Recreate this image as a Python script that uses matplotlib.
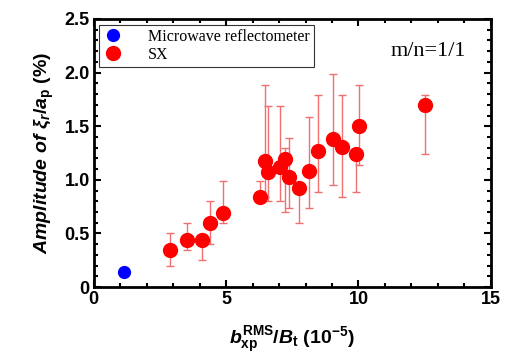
import numpy as np
import matplotlib
matplotlib.use('Agg')
import matplotlib.pyplot as plt
from matplotlib.ticker import MultipleLocator, FuncFormatter

# Microwave reflectometer point
mw_x = [1.15]
mw_y = [0.14]
mw_err = [0.04]

# SX points: x, y, lower and upper ends of the error bars
sx_x = [2.88, 3.54, 4.08, 4.38, 4.87, 6.28, 6.46, 6.59, 7.05, 7.24,
        7.38, 7.77, 8.12, 8.47, 9.04, 9.36, 9.89, 10.02, 12.50]
sx_y = [0.35, 0.44, 0.44, 0.60, 0.69, 0.84, 1.18, 1.07, 1.12, 1.19,
        1.03, 0.92, 1.08, 1.27, 1.38, 1.31, 1.24, 1.50, 1.70]
sx_lo = [0.20, 0.35, 0.25, 0.40, 0.60, 0.80, 0.84, 0.80, 0.80, 0.70,
         0.74, 0.60, 0.74, 0.89, 0.95, 0.84, 0.89, 1.14, 1.24]
sx_hi = [0.50, 0.60, 0.44, 0.80, 0.99, 0.99, 1.88, 1.69, 1.69, 1.30,
         1.39, 0.92, 1.59, 1.79, 1.99, 1.79, 1.24, 1.88, 1.79]

plt.rcParams['font.family'] = 'Liberation Sans'
plt.rcParams['mathtext.fontset'] = 'custom'
plt.rcParams['mathtext.rm'] = 'Liberation Sans:bold'
plt.rcParams['mathtext.it'] = 'Liberation Sans:bold:italic'
plt.rcParams['mathtext.bf'] = 'Liberation Sans:bold'

fig = plt.figure(figsize=(5.07, 3.58), dpi=100)
ax = fig.add_axes([0.185, 0.198, 0.783, 0.749])

sx_y_arr = np.array(sx_y)
yerr = [sx_y_arr - np.array(sx_lo), np.array(sx_hi) - sx_y_arr]
ax.errorbar(sx_x, sx_y, yerr=yerr, fmt='none', ecolor='#f07070',
            elinewidth=1.0, capsize=3, capthick=1.0, zorder=2)
ax.errorbar(mw_x, mw_y, yerr=mw_err, fmt='none', ecolor='#8080ff',
            elinewidth=1.0, capsize=2, zorder=2)
ax.plot(mw_x, mw_y, 'o', color='#0000ff', markersize=8.5, label='Microwave reflectometer', zorder=3)
ax.plot(sx_x, sx_y, 'o', color='#ff0000', markersize=10, label='SX', zorder=3)

ax.set_xlim(0, 15)
ax.set_ylim(0, 2.5)
ax.xaxis.set_major_locator(MultipleLocator(5))
ax.xaxis.set_minor_locator(MultipleLocator(1))
ax.yaxis.set_major_locator(MultipleLocator(0.5))
ax.yaxis.set_minor_locator(MultipleLocator(0.1))
ax.yaxis.set_major_formatter(FuncFormatter(lambda v, p: '0' if v == 0 else f'{v:.1f}'))
ax.tick_params(which='both', direction='in', top=True, right=True, width=1.5)
ax.tick_params(which='major', length=5, labelsize=13, pad=3)
ax.tick_params(which='minor', length=3)
for lab in ax.get_xticklabels() + ax.get_yticklabels():
    lab.set_fontweight('bold')
for s in ax.spines.values():
    s.set_linewidth(2)

ax.set_xlabel(r'$b_{\mathrm{xp}}^{\mathrm{RMS}}/B_{\mathrm{t}}$ (10$^{\mathrm{-5}}$)',
              fontsize=14, fontweight='bold', labelpad=12)
ax.set_ylabel(r'$Amplitude\ of\ \xi_r/a_{\mathrm{p}}$ (%)', fontsize=14,
              fontweight='bold', labelpad=6)

leg = ax.legend(loc='upper left', prop={'family': 'Liberation Serif', 'size': 11.5},
                frameon=True, fancybox=False, edgecolor='black', handletextpad=1.6,
                borderpad=0.25, labelspacing=0.15, borderaxespad=0.35, handlelength=1.2)
leg.get_frame().set_linewidth(0.8)

ax.text(0.937, 0.877, 'm/n=1/1', transform=ax.transAxes, ha='right', va='center',
        family='Liberation Serif', fontsize=16)

fig.savefig('out.png', dpi=100)
